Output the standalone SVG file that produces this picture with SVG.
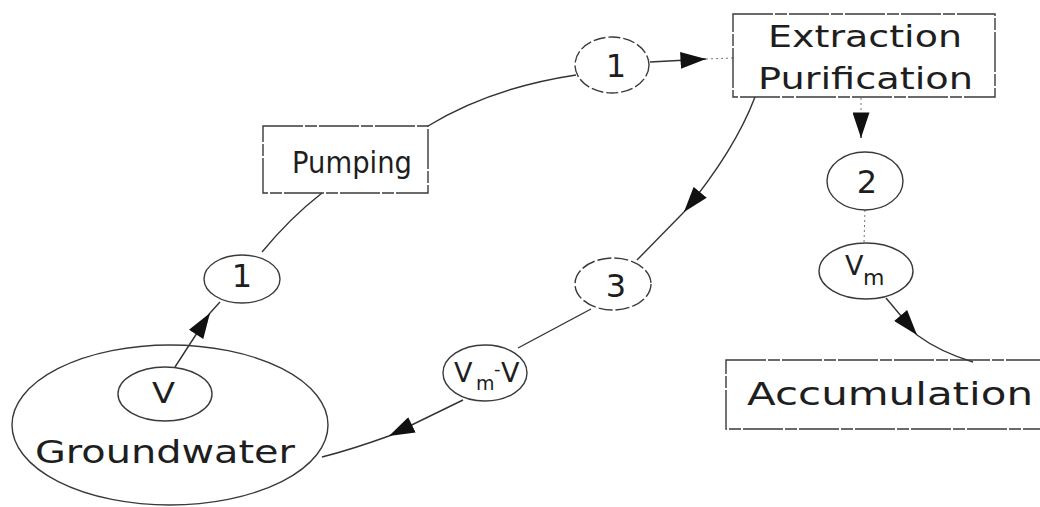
<svg xmlns="http://www.w3.org/2000/svg" width="1040" height="507" viewBox="0 0 1040 507">
  <defs>
    <marker id="arrow" viewBox="0 0 15 10" refX="15" refY="5" markerUnits="userSpaceOnUse" markerWidth="26" markerHeight="17" orient="auto">
      <path d="M0,0 L15,5 L0,10 z" fill="#111"/>
    </marker>
    <style>
      .shape { fill: none; stroke: #3a3a3a; stroke-width: 1.4; }
      .box { fill: none; stroke: #3a3a3a; stroke-width: 1.4; stroke-dasharray: 40 2 12 2; }
      .link { fill: none; stroke: #333; stroke-width: 1.4; }
      .faint { fill: none; stroke: #777; stroke-width: 1; stroke-dasharray: 2 3; }
      .label { font-family: "DejaVu Sans", "Liberation Sans", sans-serif; fill: #1e1e1e; }
    </style>
  </defs>

  <rect width="1040" height="507" fill="#ffffff"/>

  <!-- connectors -->
  <g id="connectors">
    <!-- groundwater V up to flow 1 -->
    <path class="link" d="M175,367 L210,313" marker-end="url(#arrow)"/>
    <path class="link" d="M210,313 L220,302"/>
    <!-- flow 1 to pumping -->
    <path class="link" d="M262,252 Q290,218 322,193"/>
    <!-- pumping to flow 1 (top) -->
    <path class="link" d="M428,126 Q490,88 576,75"/>
    <!-- flow 1 to extraction -->
    <path class="link" d="M650,62 L706,59" marker-end="url(#arrow)"/>
    <path class="faint" d="M706,59 L733,58"/>
    <!-- extraction down to flow 2 -->
    <path class="faint" d="M861,98 L861,116"/>
    <path class="link" d="M861,115 L861,138" stroke="none" marker-end="url(#arrow)"/>
    <!-- flow 2 to Vm -->
    <path class="faint" d="M865,210 L864,243"/>
    <!-- Vm to accumulation -->
    <path class="link" d="M886,298 L917,335" marker-end="url(#arrow)"/>
    <path class="link" d="M917,335 Q940,352 973,362"/>
    <!-- extraction to flow 3 -->
    <path class="link" d="M755,97 Q735,150 684,212" marker-end="url(#arrow)"/>
    <path class="link" d="M684,212 L637,260"/>
    <!-- flow 3 to Vm-V -->
    <path class="link" d="M591,309 L518,348"/>
    <!-- Vm-V back to groundwater -->
    <path class="link" d="M463,400 L389,436" marker-end="url(#arrow)"/>
    <path class="link" d="M389,436 Q350,450 322,457"/>
  </g>

  <!-- groundwater reservoir with volume V -->
  <g id="groundwater">
    <ellipse class="shape" cx="170" cy="425" rx="158" ry="80"/>
    <text class="label" x="35" y="463" font-size="32" textLength="260" lengthAdjust="spacingAndGlyphs">Groundwater</text>
  </g>
  <g id="volume-v">
    <ellipse class="shape" cx="165" cy="394" rx="47" ry="27"/>
    <text class="label" x="152" y="403" font-size="28" textLength="23" lengthAdjust="spacingAndGlyphs">V</text>
  </g>

  <g id="flow-1-lower">
    <ellipse class="shape" cx="242" cy="279" rx="38" ry="24"/>
    <text class="label" x="242" y="287" font-size="32" text-anchor="middle">1</text>
  </g>

  <g id="pumping">
    <rect class="box" x="263" y="126" width="165" height="67"/>
    <text class="label" x="292" y="173" font-size="30" textLength="120" lengthAdjust="spacingAndGlyphs">Pumping</text>
  </g>

  <g id="flow-1-upper">
    <ellipse class="shape" cx="612" cy="65" rx="37" ry="28" stroke-dasharray="12 3"/>
    <text class="label" x="616" y="77" font-size="32" text-anchor="middle">1</text>
  </g>

  <g id="extraction">
    <rect class="box" x="733" y="14" width="262" height="83"/>
    <text class="label" x="768" y="47" font-size="30" textLength="194" lengthAdjust="spacingAndGlyphs">Extraction</text>
    <text class="label" x="758" y="89" font-size="30" textLength="215" lengthAdjust="spacingAndGlyphs">Purification</text>
  </g>

  <g id="flow-2">
    <ellipse class="shape" cx="865" cy="181" rx="38" ry="29"/>
    <text class="label" x="867" y="193" font-size="32" text-anchor="middle">2</text>
  </g>

  <g id="volume-vm">
    <ellipse class="shape" cx="866" cy="271" rx="47" ry="28"/>
    <text class="label" font-size="27"><tspan x="845" y="275">V</tspan><tspan x="863" y="285" font-size="22">m</tspan></text>
  </g>

  <g id="accumulation">
    <rect class="box" x="726" y="360" width="330" height="69"/>
    <text class="label" x="747" y="405" font-size="32" textLength="286" lengthAdjust="spacingAndGlyphs">Accumulation</text>
  </g>

  <g id="flow-3">
    <ellipse class="shape" cx="613" cy="284" rx="38" ry="26" stroke-dasharray="14 3"/>
    <text class="label" x="616" y="297" font-size="32" text-anchor="middle">3</text>
  </g>

  <g id="volume-vm-minus-v">
    <ellipse class="shape" cx="485" cy="373" rx="42" ry="28"/>
    <text class="label" font-size="27"><tspan x="454" y="382">V</tspan><tspan x="476" y="390" font-size="19">m</tspan><tspan x="494" y="375" font-size="18">-</tspan><tspan x="501" y="382">V</tspan></text>
  </g>
</svg>
